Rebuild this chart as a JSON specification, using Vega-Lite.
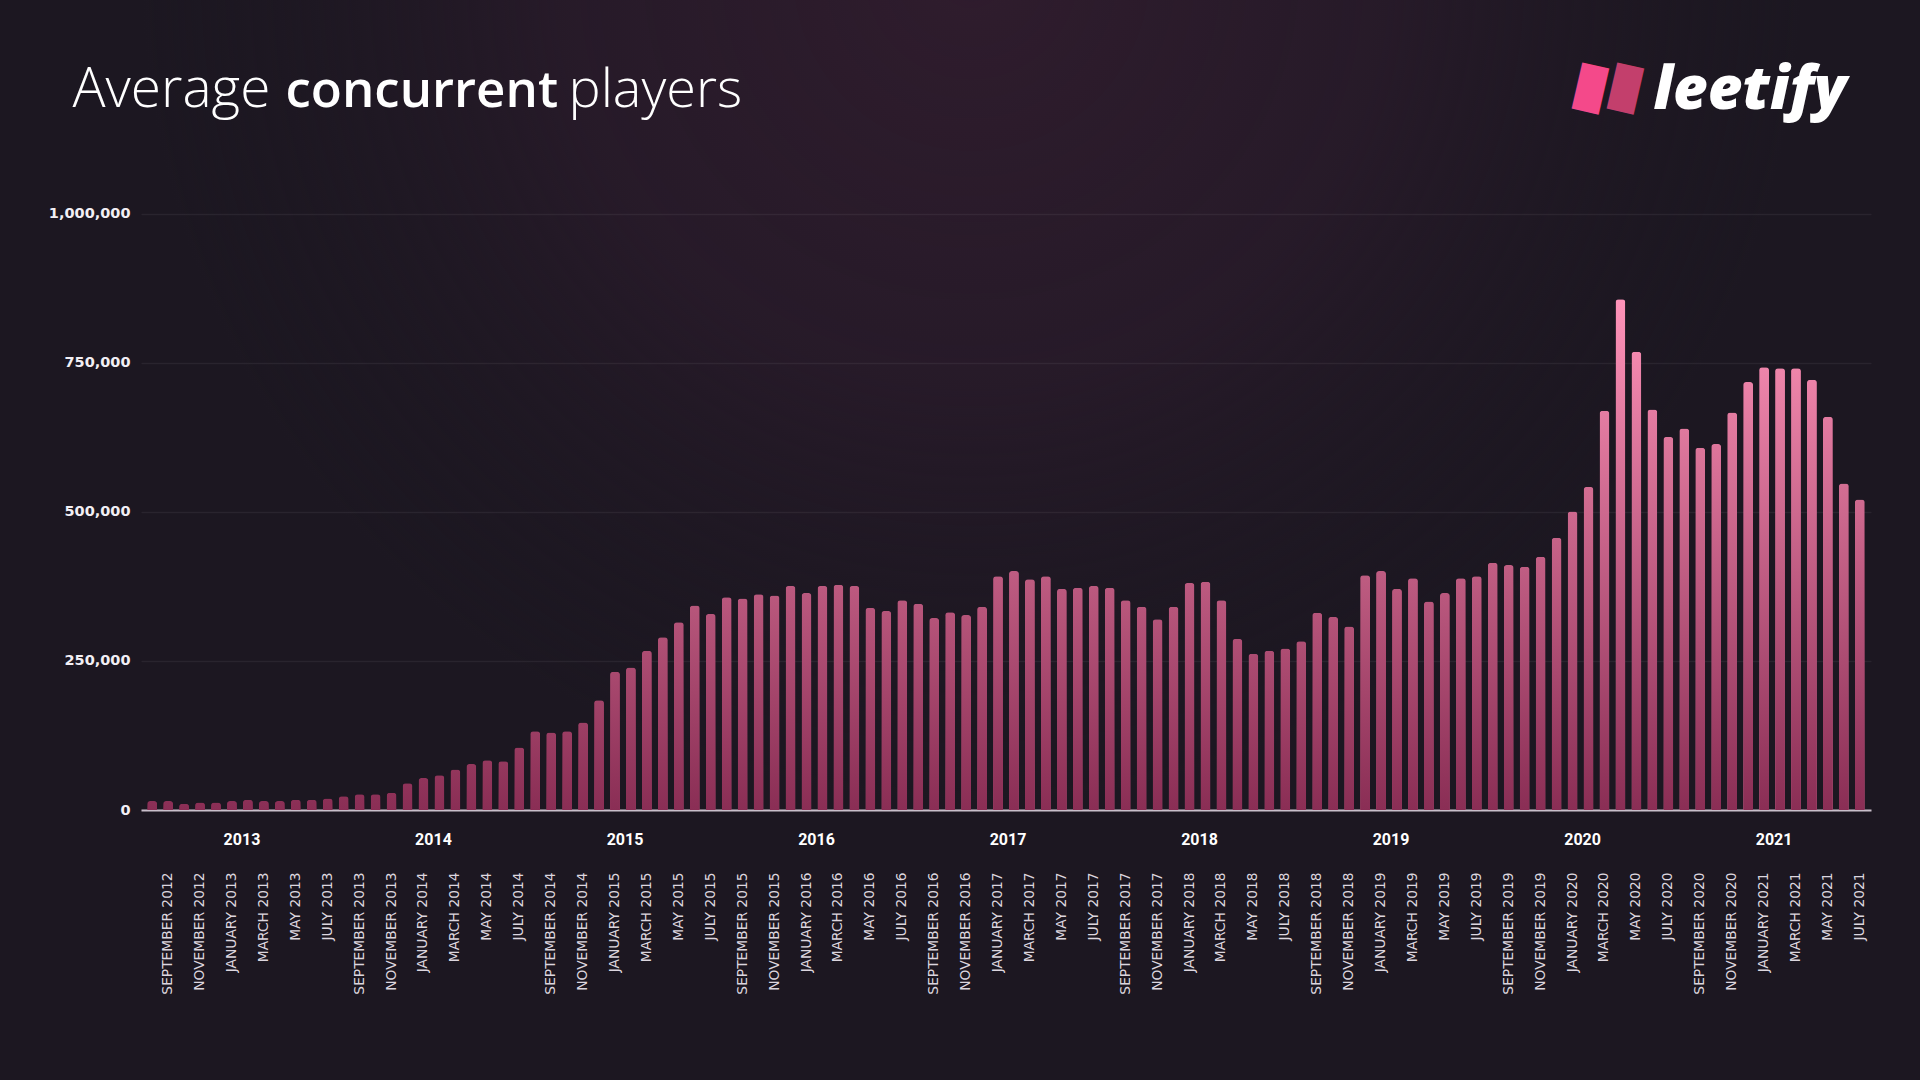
{
  "$schema": "https://vega.github.io/schema/vega-lite/v6.json",
  "width": 1730,
  "height": 810,
  "autosize": {"type": "none"},
  "padding": {"left": 141, "top": 0, "right": 49, "bottom": 270},
  "background": "#1c1721",
  "config": {
    "view": {
      "stroke": null,
      "fill": {
        "gradient": "radial", "x1": 0.48, "y1": 0.25, "x2": 0.48, "y2": 0.25, "r1": 0, "r2": 0.48,
        "stops": [
          {"offset": 0, "color": "rgba(47,28,45,1)"},
          {"offset": 0.5, "color": "rgba(42,27,43,0.75)"},
          {"offset": 1, "color": "rgba(28,23,33,0)"}
        ]
      }
    }
  },
  "data": {"values": [
    {"month": "2012-08", "players": 15000},
    {"month": "2012-09", "players": 15000},
    {"month": "2012-10", "players": 10500},
    {"month": "2012-11", "players": 12500},
    {"month": "2012-12", "players": 12500},
    {"month": "2013-01", "players": 15000},
    {"month": "2013-02", "players": 17000},
    {"month": "2013-03", "players": 15000},
    {"month": "2013-04", "players": 15000},
    {"month": "2013-05", "players": 17000},
    {"month": "2013-06", "players": 17000},
    {"month": "2013-07", "players": 19500},
    {"month": "2013-08", "players": 23000},
    {"month": "2013-09", "players": 26500},
    {"month": "2013-10", "players": 26500},
    {"month": "2013-11", "players": 29000},
    {"month": "2013-12", "players": 45000},
    {"month": "2014-01", "players": 53500},
    {"month": "2014-02", "players": 58500},
    {"month": "2014-03", "players": 68000},
    {"month": "2014-04", "players": 77000},
    {"month": "2014-05", "players": 83500},
    {"month": "2014-06", "players": 82000},
    {"month": "2014-07", "players": 105000},
    {"month": "2014-08", "players": 132000},
    {"month": "2014-09", "players": 130000},
    {"month": "2014-10", "players": 132000},
    {"month": "2014-11", "players": 147000},
    {"month": "2014-12", "players": 184000},
    {"month": "2015-01", "players": 232000},
    {"month": "2015-02", "players": 239000},
    {"month": "2015-03", "players": 267000},
    {"month": "2015-04", "players": 290000},
    {"month": "2015-05", "players": 315000},
    {"month": "2015-06", "players": 343000},
    {"month": "2015-07", "players": 329000},
    {"month": "2015-08", "players": 357000},
    {"month": "2015-09", "players": 355000},
    {"month": "2015-10", "players": 362000},
    {"month": "2015-11", "players": 360000},
    {"month": "2015-12", "players": 376000},
    {"month": "2016-01", "players": 364000},
    {"month": "2016-02", "players": 376000},
    {"month": "2016-03", "players": 378000},
    {"month": "2016-04", "players": 376000},
    {"month": "2016-05", "players": 339000},
    {"month": "2016-06", "players": 334000},
    {"month": "2016-07", "players": 352000},
    {"month": "2016-08", "players": 346000},
    {"month": "2016-09", "players": 322000},
    {"month": "2016-10", "players": 332000},
    {"month": "2016-11", "players": 327000},
    {"month": "2016-12", "players": 341000},
    {"month": "2017-01", "players": 392000},
    {"month": "2017-02", "players": 401000},
    {"month": "2017-03", "players": 387000},
    {"month": "2017-04", "players": 392000},
    {"month": "2017-05", "players": 371000},
    {"month": "2017-06", "players": 373000},
    {"month": "2017-07", "players": 376000},
    {"month": "2017-08", "players": 373000},
    {"month": "2017-09", "players": 352000},
    {"month": "2017-10", "players": 341000},
    {"month": "2017-11", "players": 320000},
    {"month": "2017-12", "players": 341000},
    {"month": "2018-01", "players": 381000},
    {"month": "2018-02", "players": 383000},
    {"month": "2018-03", "players": 352000},
    {"month": "2018-04", "players": 287000},
    {"month": "2018-05", "players": 262000},
    {"month": "2018-06", "players": 267000},
    {"month": "2018-07", "players": 271000},
    {"month": "2018-08", "players": 283000},
    {"month": "2018-09", "players": 331000},
    {"month": "2018-10", "players": 324000},
    {"month": "2018-11", "players": 308000},
    {"month": "2018-12", "players": 394000},
    {"month": "2019-01", "players": 401000},
    {"month": "2019-02", "players": 371000},
    {"month": "2019-03", "players": 389000},
    {"month": "2019-04", "players": 350000},
    {"month": "2019-05", "players": 364000},
    {"month": "2019-06", "players": 389000},
    {"month": "2019-07", "players": 392000},
    {"month": "2019-08", "players": 415000},
    {"month": "2019-09", "players": 411000},
    {"month": "2019-10", "players": 408000},
    {"month": "2019-11", "players": 425000},
    {"month": "2019-12", "players": 457000},
    {"month": "2020-01", "players": 501000},
    {"month": "2020-02", "players": 542000},
    {"month": "2020-03", "players": 670000},
    {"month": "2020-04", "players": 857000},
    {"month": "2020-05", "players": 769000},
    {"month": "2020-06", "players": 672000},
    {"month": "2020-07", "players": 626000},
    {"month": "2020-08", "players": 640000},
    {"month": "2020-09", "players": 608000},
    {"month": "2020-10", "players": 614000},
    {"month": "2020-11", "players": 667000},
    {"month": "2020-12", "players": 718000},
    {"month": "2021-01", "players": 743000},
    {"month": "2021-02", "players": 741000},
    {"month": "2021-03", "players": 741000},
    {"month": "2021-04", "players": 722000},
    {"month": "2021-05", "players": 660000},
    {"month": "2021-06", "players": 548000},
    {"month": "2021-07", "players": 521000}
  ]},
  "layer": [
    {
      "mark": {"type": "bar", "cornerRadiusTopLeft": 3, "cornerRadiusTopRight": 3},
      "encoding": {
        "x": {
          "field": "month", "type": "ordinal",
          "scale": {"paddingInner": 0.38, "paddingOuter": 0.39},
          "axis": {
            "orient": "bottom",
            "labelExpr": "toNumber(substring(datum.value,5,7)) % 2 == 1 ? ['JANUARY','FEBRUARY','MARCH','APRIL','MAY','JUNE','JULY','AUGUST','SEPTEMBER','OCTOBER','NOVEMBER','DECEMBER'][toNumber(substring(datum.value,5,7))-1] + ' ' + substring(datum.value,0,4) : ''",
            "labelAngle": -90,
            "labelAlign": "right",
            "labelBaseline": "middle",
            "labelPadding": 62,
            "labelFont": "DejaVu Sans",
            "labelFontSize": 13.8,
            "labelColor": "#dcd6df",
            "labelOverlap": false,
            "labelBound": false,
            "ticks": false,
            "grid": false,
            "domain": true,
            "domainColor": "#c9bfcb",
            "domainWidth": 2,
            "title": "Average",
            "titleX": -69,
            "titleY": -704,
            "titleAngle": 0,
            "titleAlign": "left",
            "titleBaseline": "alphabetic",
            "titleFont": "Open Sans",
            "titleFontSize": 55,
            "titleFontWeight": 300,
            "titleColor": "#ffffff"
          }
        },
        "y": {
          "field": "players", "type": "quantitative",
          "scale": {"domain": [0, 1359060], "nice": false},
          "axis": {
            "orient": "left",
            "values": [0, 250000, 500000, 750000, 1000000],
            "format": ",.0f",
            "labelFont": "DejaVu Sans",
            "labelFontWeight": "bold",
            "labelFontSize": 14.5,
            "labelColor": "#f2eff4",
            "labelPadding": 11,
            "ticks": false,
            "domain": false,
            "grid": true,
            "gridColor": "#ffffff",
            "gridOpacity": 0.06,
            "gridWidth": 1.5,
            "title": "concurrent",
            "titleX": 144,
            "titleY": 106,
            "titleAngle": 0,
            "titleAlign": "left",
            "titleBaseline": "alphabetic",
            "titleFont": "Open Sans",
            "titleFontSize": 51,
            "titleFontWeight": 600,
            "titleColor": "#ffffff"
          }
        },
        "color": {
          "field": "players", "type": "quantitative",
          "scale": {"domain": [0, 860000], "range": ["#8a2e55", "#ff93b9"]},
          "legend": null
        }
      }
    },
    {
      "mark": {
        "type": "bar", "cornerRadiusTopLeft": 3, "cornerRadiusTopRight": 3,
        "fill": {
          "gradient": "linear", "x1": 0, "y1": 0, "x2": 0, "y2": 1,
          "stops": [
            {"offset": 0, "color": "rgba(138,46,85,0)"},
            {"offset": 1, "color": "rgba(138,46,85,1)"}
          ]
        }
      },
      "encoding": {
        "x": {
          "field": "month", "type": "ordinal",
          "axis": {
            "orient": "bottom",
            "labelExpr": "substring(datum.value,5,7) == '01' ? substring(datum.value,0,4) : ''",
            "labelAngle": 0,
            "labelAlign": "center",
            "labelBaseline": "top",
            "labelPadding": 21,
            "labelOffset": 10,
            "labelFont": "Roboto",
            "labelFontWeight": "bold",
            "labelFontSize": 16,
            "labelColor": "#ffffff",
            "labelOverlap": false,
            "labelBound": false,
            "ticks": false,
            "grid": false,
            "domain": false,
            "title": "players",
            "titleX": 427,
            "titleY": -704,
            "titleAngle": 0,
            "titleAlign": "left",
            "titleBaseline": "alphabetic",
            "titleFont": "Open Sans",
            "titleFontSize": 54,
            "titleFontWeight": 300,
            "titleColor": "#ffffff"
          }
        },
        "y": {
          "field": "players", "type": "quantitative",
          "axis": {
            "orient": "right",
            "values": [1000000, 999999],
            "labelExpr": "'█'",
            "labelFont": "Liberation Sans",
            "labelFontSize": 39,
            "labelAngle": 13,
            "labelColor": {"condition": {"test": "datum.value == 1000000", "value": "#f4498a"}, "value": "#c33f6c"},
            "labelAlign": "center",
            "labelBaseline": "middle",
            "labelPadding": {"condition": {"test": "datum.value == 1000000", "value": -281}, "value": -246},
            "labelOffset": -126,
            "labelOverlap": false,
            "labelFlush": false,
            "labelBound": false,
            "ticks": false,
            "grid": false,
            "domain": false,
            "title": "leetify",
            "titleX": -218,
            "titleY": 108,
            "titleAngle": 0,
            "titleAlign": "left",
            "titleBaseline": "alphabetic",
            "titleFont": "Open Sans",
            "titleFontSize": 60,
            "titleFontWeight": 800,
            "titleFontStyle": "italic",
            "titleColor": "#ffffff"
          }
        }
      }
    }
  ],
  "resolve": {"axis": {"x": "independent", "y": "independent"}}
}
